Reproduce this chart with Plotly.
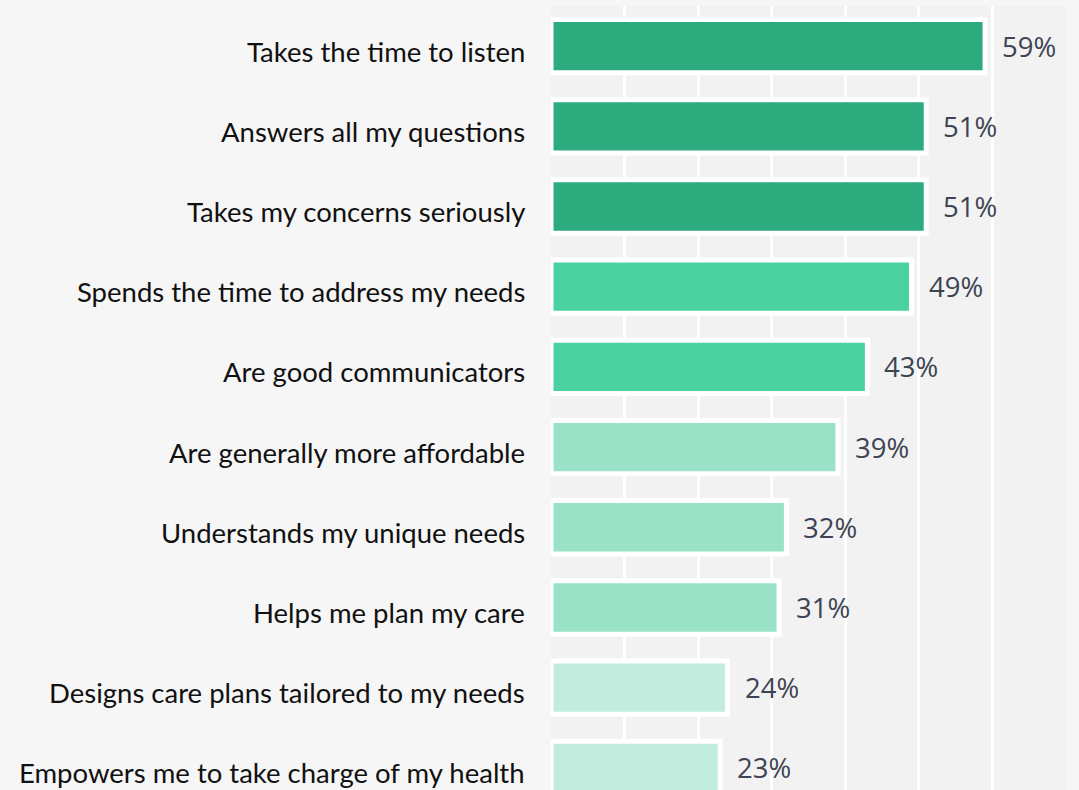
import plotly.graph_objects as go

categories = [
    "Takes the time to listen",
    "Answers all my questions",
    "Takes my concerns seriously",
    "Spends the time to address my needs",
    "Are good communicators",
    "Are generally more affordable",
    "Understands my unique needs",
    "Helps me plan my care",
    "Designs care plans tailored to my needs",
    "Empowers me to take charge of my health",
]
values = [59, 51, 51, 49, 43, 39, 32, 31, 24, 23]
bar_colors = [
    "#2cac7e", "#2cac7e", "#2cac7e",
    "#4bd2a0", "#4bd2a0",
    "#99e2c7", "#99e2c7", "#99e2c7",
    "#c2ecde", "#c2ecde",
]
value_labels = [f"{v}%" for v in values]

fig = go.Figure()
fig.add_trace(go.Bar(
    x=values,
    y=categories,
    orientation="h",
    marker=dict(color=bar_colors, line=dict(color="#ffffff", width=5)),
    width=0.665,
    hoverinfo="skip",
))

for v, c, t in zip(values, categories, value_labels):
    fig.add_annotation(
        x=v, y=c, text=t, showarrow=False,
        xanchor="left", yanchor="middle", xshift=15,
        font=dict(family="Open Sans", size=27.5, color="#3d4453"),
    )
    # category label, left of the plot area
    fig.add_annotation(
        x=0, xref="paper", y=c, text=c, showarrow=False,
        xanchor="right", yanchor="middle", xshift=-24, yshift=-5,
        font=dict(family="Lato", size=27.5, color="#111111"),
    )

fig.update_layout(
    width=1079,
    height=790,
    margin=dict(l=551, r=13, t=6, b=0),
    paper_bgcolor="#f6f6f6",
    plot_bgcolor="#f2f2f2",
    showlegend=False,
    bargap=0.335,
)
fig.update_xaxes(
    range=[0, 70],
    showgrid=True, gridcolor="#ffffff", gridwidth=2.5,
    dtick=10, showticklabels=False, zeroline=False,
    showline=False,
)
fig.update_yaxes(
    categoryorder="array", categoryarray=categories,
    range=[9.276, -0.5],
    showgrid=False, zeroline=False, showline=False,
    ticks="", showticklabels=False,
)

fig.write_html(
    "out.html",
    config={"displayModeBar": False},
    post_script="document.body.style.margin='0px';document.body.style.overflow='hidden';",
)
